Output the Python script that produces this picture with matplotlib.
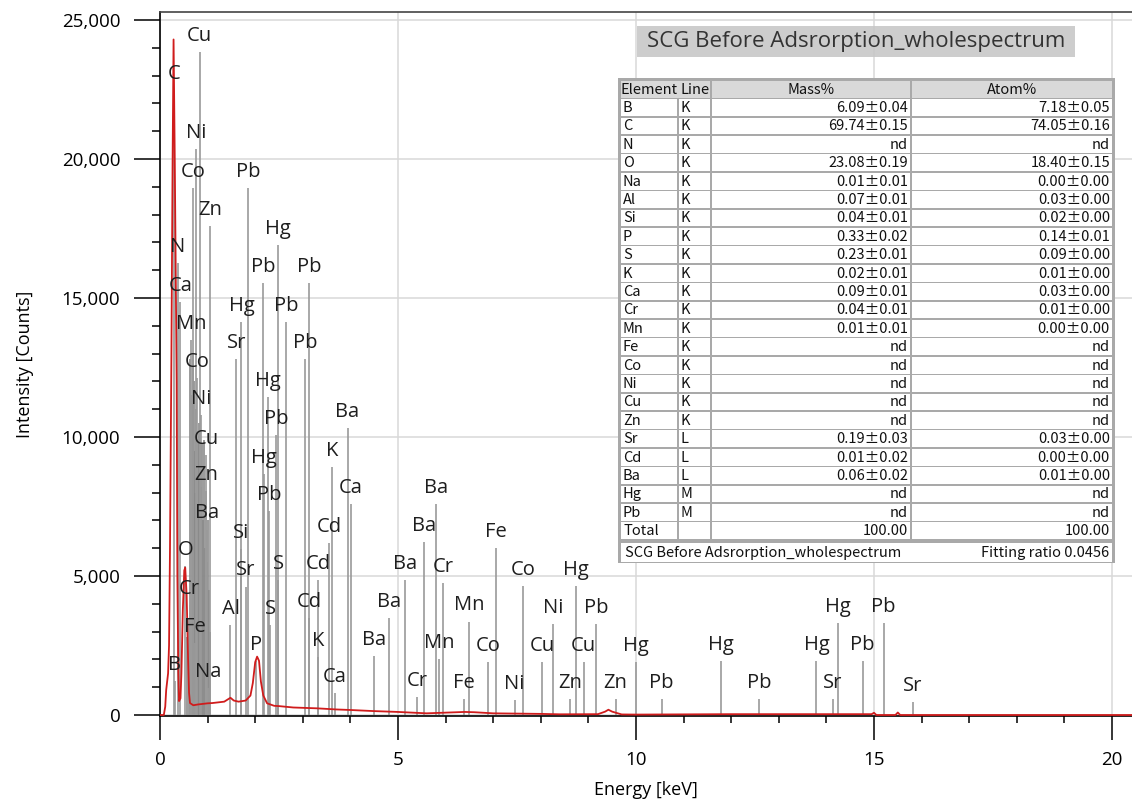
import matplotlib.pyplot as plt
from matplotlib.patches import Rectangle
from matplotlib.ticker import MultipleLocator, FuncFormatter

plt.rcParams['font.family'] = ['Open Sans', 'DejaVu Sans']

# EDS spectrum trace (keV, counts)
spec_kev = [0.00, 0.08, 0.11, 0.13, 0.15, 0.17, 0.19, 0.21, 0.24, 0.265, 0.285,
            0.31, 0.35, 0.365, 0.385, 0.40, 0.43, 0.45, 0.48, 0.51, 0.53, 0.56,
            0.59, 0.61, 0.63, 0.70, 0.80, 0.90, 1.00, 1.10, 1.20, 1.35, 1.48,
            1.55, 1.65, 1.80, 1.90, 1.95, 2.00, 2.04, 2.08, 2.12, 2.17, 2.25,
            2.40, 2.50, 2.80, 3.30, 3.70, 4.00, 4.50, 5.00, 5.60, 6.40, 6.60,
            7.00, 8.00, 8.40, 9.20, 9.35, 9.42, 9.50, 9.70, 10.0, 12.0, 14.0,
            14.95, 15.0, 15.05, 15.45, 15.5, 15.55, 20.42]
spec_counts = [0, 0, 300, 900, 1200, 1500, 2500, 6000, 13000, 20000, 24300,
               20000, 12000, 5000, 1500, 500, 600, 1500, 3800, 5200, 5300, 4300,
               2000, 800, 430, 350, 380, 400, 420, 430, 450, 480, 620,
               520, 480, 520, 700, 1150, 1900, 2100, 1950, 1200, 700, 420,
               330, 320, 270, 240, 200, 180, 140, 110, 60, 110, 100,
               60, 40, 25, 30, 120, 190, 120, 20, 15, 30, 30,
               30, 80, 0, 0, 90, 0, 0]

# labelled marker lines
line_names = ["B", "C", "N", "Ca", "O", "Cr", "Mn", "Fe", "Co", "Ni", "Cu", "Zn",
              "Ba", "Na", "Cu", "Ni", "Co", "Zn",
              "Al", "Sr", "Si", "Sr", "Hg", "Pb", "Pb", "Hg", "Pb", "Pb", "Pb",
              "Hg", "Pb", "Hg", "Pb", "P", "S", "S",
              "Cd", "Cd", "K", "Cd", "K", "Ca", "Ca", "Ba",
              "Ba", "Ba", "Ba", "Ba", "Ba", "Cr", "Cr", "Mn", "Mn", "Fe", "Fe",
              "Co", "Co", "Ni", "Ni", "Cu", "Cu", "Zn", "Zn", "Hg", "Pb", "Hg",
              "Pb", "Hg", "Pb", "Hg", "Sr", "Hg", "Pb", "Pb", "Sr"]
line_kev = [0.31, 0.30, 0.38, 0.43, 0.53, 0.62, 0.66, 0.73, 0.78, 0.855, 0.975, 0.975,
            0.99, 1.01, 0.83, 0.75, 0.70, 1.05,
            1.48, 1.80, 1.71, 1.60, 1.71, 1.85, 2.17, 2.48, 2.65, 3.14, 3.05,
            2.27, 2.44, 2.18, 2.30, 2.01, 2.32, 2.48,
            3.14, 3.32, 3.32, 3.55, 3.61, 3.68, 4.01, 3.94,
            4.49, 4.82, 5.14, 5.55, 5.80, 5.40, 5.95, 5.87, 6.49, 6.39, 7.05,
            6.90, 7.63, 7.45, 8.25, 8.03, 8.90, 8.61, 9.57, 8.73, 9.16, 9.99,
            10.54, 11.79, 12.59, 13.79, 14.13, 14.25, 14.76, 15.20, 15.82]
line_height = [1220, 22480, 16260, 14860, 5350, 3970, 13500, 2590, 12120, 10800, 9360, 8050,
               6670, 970, 23860, 20350, 18970, 17600,
               3240, 4620, 5970, 12800, 14150, 18950, 15530, 16900, 14150, 15530, 12800,
               11450, 10070, 8670, 7350, 1940, 3240, 4860,
               3490, 4860, 2100, 6200, 8930, 780, 7590, 10310,
               2120, 3490, 4860, 6210, 7580, 650, 4750, 2010, 3360, 580, 6020,
               1920, 4650, 540, 3270, 1920, 1920, 560, 560, 4650, 3270, 1920,
               570, 1940, 570, 1940, 570, 3300, 1940, 3300, 480]

# unlabelled L/M marker lines packed between 0.6 and 1.1 keV
extra_kev = [0.57, 0.60, 0.64, 0.67, 0.69, 0.71, 0.72, 0.74, 0.76, 0.79, 0.80, 0.81,
             0.84, 0.86, 0.89, 0.91, 0.93, 0.95, 0.98, 1.00, 1.03, 1.06]
extra_height = [2800, 3500, 12800, 11500, 13000, 9500, 12000, 8000, 11000, 9800, 7500, 10500,
                9000, 8200, 9800, 7000, 9900, 6000, 5500, 7000, 4500, 3000]

# quantitative result table
tbl_elem = ["B", "C", "N", "O", "Na", "Al", "Si", "P", "S", "K", "Ca", "Cr", "Mn",
            "Fe", "Co", "Ni", "Cu", "Zn", "Sr", "Cd", "Ba", "Hg", "Pb"]
tbl_line = ["K"] * 18 + ["L", "L", "L", "M", "M"]
tbl_mass = ["6.09±0.04", "69.74±0.15", "nd", "23.08±0.19", "0.01±0.01", "0.07±0.01",
            "0.04±0.01", "0.33±0.02", "0.23±0.01", "0.02±0.01", "0.09±0.01", "0.04±0.01",
            "0.01±0.01", "nd", "nd", "nd", "nd", "nd", "0.19±0.03", "0.01±0.02",
            "0.06±0.02", "nd", "nd"]
tbl_atom = ["7.18±0.05", "74.05±0.16", "nd", "18.40±0.15", "0.00±0.00", "0.03±0.00",
            "0.02±0.00", "0.14±0.01", "0.09±0.00", "0.01±0.00", "0.03±0.00", "0.01±0.00",
            "0.00±0.00", "nd", "nd", "nd", "nd", "nd", "0.03±0.00", "0.00±0.00",
            "0.01±0.00", "nd", "nd"]
total_mass = "100.00"
total_atom = "100.00"
spec_name = "SCG Before Adsrorption_wholespectrum"
fit_text = "Fitting ratio 0.0456"

W, H = 1132, 807
fig = plt.figure(figsize=(W / 100, H / 100), dpi=100)
ax = fig.add_axes([160 / W, (H - 716) / H, 972 / W, 704 / H])

# marker lines + element labels
ax.vlines(extra_kev, 0, extra_height, color='#8a8a8a', lw=1.2, zorder=2)
ax.vlines(line_kev, 0, line_height, color='#9a9a9a', lw=1.2, zorder=2)
for name, k, h in zip(line_names, line_kev, line_height):
    ax.annotate(name, (k, h), xytext=(0, 8), textcoords='offset points',
                ha='center', va='baseline', fontsize=14.5, color='#1e1e1e', zorder=4)

ax.plot(spec_kev, spec_counts, color='#d01c1c', lw=1.3, zorder=3)

ax.set_xlim(0, 20.42)
ax.set_ylim(-36, 25288)
ax.xaxis.set_major_locator(MultipleLocator(5))
ax.xaxis.set_minor_locator(MultipleLocator(1))
ax.yaxis.set_major_locator(MultipleLocator(5000))
ax.yaxis.set_minor_locator(MultipleLocator(1000))
ax.yaxis.set_major_formatter(FuncFormatter(lambda v, p: f"{int(v):,}"))
ax.tick_params(axis='y', which='major', length=18.5, width=1.1, pad=10, labelsize=13.5)
ax.tick_params(axis='y', which='minor', length=6, width=1.1)
ax.tick_params(axis='x', which='major', length=17, width=1.1, pad=8, labelsize=13.5)
ax.tick_params(axis='x', which='minor', length=5, width=1.1)
ax.grid(True, which='major', color='#d9d9d9', lw=1.1, zorder=0)
ax.set_axisbelow(True)
ax.spines['right'].set_visible(False)
for s in ['left', 'bottom', 'top']:
    ax.spines[s].set_linewidth(1.2)
ax.spines['top'].set_color('#444444')

ax.set_xlabel("Energy [keV]", fontsize=13, labelpad=9)
ax.set_ylabel("Intensity [Counts]", fontsize=13, labelpad=20)

# overlay in pixel coords for the title box and the results table
ov = fig.add_axes([0, 0, 1, 1], zorder=5)
ov.set_xlim(0, W)
ov.set_ylim(H, 0)
ov.axis('off')
ov.patch.set_alpha(0)

ov.add_patch(Rectangle((637, 26), 438, 31, facecolor='#c6c6c6', edgecolor='none', alpha=0.88))
ov.text(856, 41.5, spec_name, ha='center', va='center', fontsize=16, color='#333333')

tfont = ['Noto Sans CJK JP', 'DejaVu Sans']
tsize = 10.5
col_x = [620, 678, 711, 911, 1113]
row_top = 80
row_h = 18.4
n_rows = len(tbl_elem) + 2
border = '#a9a9a9'

ov.add_patch(Rectangle((618, row_top - 2), 497, n_rows * row_h + 24.5,
                       facecolor=border, edgecolor='none'))


def cell(ci, y0, h, fc='white'):
    x0, x1 = col_x[ci], col_x[ci + 1]
    ov.add_patch(Rectangle((x0 + 0.8, y0 + 0.8), x1 - x0 - 1.6, h - 1.6,
                           facecolor=fc, edgecolor='none'))


def put(ci, y0, h, s, align):
    x0, x1 = col_x[ci], col_x[ci + 1]
    if align == 'left':
        x, ha = x0 + 3, 'left'
    elif align == 'right':
        x, ha = x1 - 3, 'right'
    else:
        x, ha = (x0 + x1) / 2, 'center'
    ov.text(x, y0 + h / 2 + 0.5, s, ha=ha, va='center', fontsize=tsize,
            family=tfont, color='#111111')


# header row
ov.add_patch(Rectangle((col_x[0] + 0.8, row_top + 0.8), col_x[2] - col_x[0] - 1.6, row_h - 1.6,
                       facecolor='#d9d9d9', edgecolor='none'))
cell(2, row_top, row_h, '#d9d9d9')
cell(3, row_top, row_h, '#d9d9d9')
ov.text(col_x[0] + 1, row_top + row_h / 2 + 0.5, "Element", ha='left', va='center',
        fontsize=tsize, family=tfont, color='#111111')
ov.text(col_x[1] + 2, row_top + row_h / 2 + 0.5, "Line", ha='left', va='center',
        fontsize=tsize, family=tfont, color='#111111')
put(2, row_top, row_h, "Mass%", 'center')
put(3, row_top, row_h, "Atom%", 'center')

rows = list(zip(tbl_elem, tbl_line, tbl_mass, tbl_atom)) + [("Total", "", total_mass, total_atom)]
for i, (el, ln, ms, at) in enumerate(rows):
    y0 = row_top + (i + 1) * row_h
    for ci in range(4):
        cell(ci, y0, row_h)
    put(0, y0, row_h, el, 'left')
    put(1, y0, row_h, ln, 'left')
    put(2, y0, row_h, ms, 'right')
    put(3, y0, row_h, at, 'right')

# footer with spectrum name and fitting ratio
fy = row_top + n_rows * row_h + 2.5
ov.add_patch(Rectangle((col_x[0] + 0.8, fy), col_x[-1] - col_x[0] - 1.6, 19,
                       facecolor='white', edgecolor='none'))
ov.text(col_x[0] + 5, fy + 10, spec_name, ha='left', va='center', fontsize=tsize,
        family=tfont, color='#111111')
ov.text(col_x[-1] - 4, fy + 10, fit_text, ha='right', va='center', fontsize=tsize,
        family=tfont, color='#111111')

fig.savefig('out.png', dpi=100)
